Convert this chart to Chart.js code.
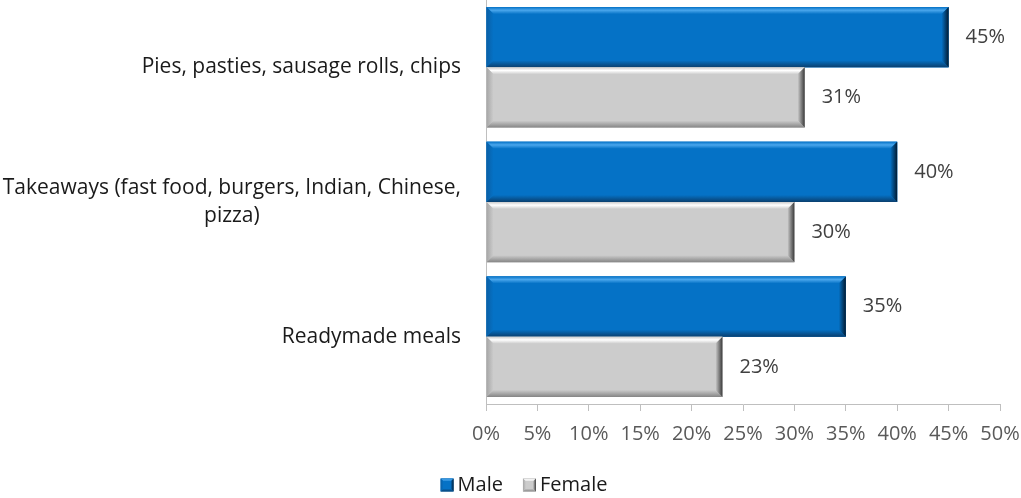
<!DOCTYPE html>
<html>
<head>
<meta charset="utf-8">
<script src="https://cdn.jsdelivr.net/npm/chart.js@4/dist/chart.umd.min.js"></script>
<style>
  html, body { margin: 0; padding: 0; background: #ffffff; }
  #wrap { width: 1021px; height: 498px; position: relative; }
</style>
</head>
<body>
<div id="wrap"><canvas id="chart"></canvas></div>
<script>
// Category labels (second one wraps onto two lines)
const categories = [
  ['Pies, pasties, sausage rolls, chips'],
  ['Takeaways (fast food, burgers, Indian, Chinese,', 'pizza)'],
  ['Readymade meals']
];
const seriesNames = ['Male', 'Female'];
const maleValues = [45, 40, 35];
const femaleValues = [31, 30, 23];
const xTicks = [0, 5, 10, 15, 20, 25, 30, 35, 40, 45, 50];

const FONT = '"Open Sans", "Noto Sans", sans-serif';
const FONT_SIZE = 20;
const CAT_FONT_SIZE = 21;

// Colour sets for the bevelled bars: base, highlight, shade, edge
const palette = {
  Male:   { base: '#0572c6', light: '#4aa6ec', left: '#0a5fa6', dark: '#0a3f6e', edge: '#021a30' },
  Female: { base: '#cccccc', light: '#ffffff', left: '#a6a6a6', dark: '#858585', edge: '#3a3a3a' }
};

// Draws a raised (bevelled) rectangle
function bevelRect(ctx, x0, y0, x1, y1, c, b) {
  ctx.save();
  ctx.fillStyle = c.base;
  ctx.fillRect(x0, y0, x1 - x0, y1 - y0);
  let g = ctx.createLinearGradient(0, y0, 0, y0 + b);
  g.addColorStop(0, c.base);
  g.addColorStop(0.45, c.light);
  g.addColorStop(1, c.base);
  ctx.fillStyle = g;
  ctx.beginPath();
  ctx.moveTo(x0, y0); ctx.lineTo(x1, y0); ctx.lineTo(x1 - b, y0 + b); ctx.lineTo(x0 + b, y0 + b);
  ctx.closePath(); ctx.fill();
  g = ctx.createLinearGradient(x0, 0, x0 + b, 0);
  g.addColorStop(0, c.left);
  g.addColorStop(1, c.base);
  ctx.fillStyle = g;
  ctx.beginPath();
  ctx.moveTo(x0, y0); ctx.lineTo(x0 + b, y0 + b); ctx.lineTo(x0 + b, y1 - b); ctx.lineTo(x0, y1);
  ctx.closePath(); ctx.fill();
  g = ctx.createLinearGradient(0, y1 - b, 0, y1);
  g.addColorStop(0, c.base);
  g.addColorStop(1, c.dark);
  ctx.fillStyle = g;
  ctx.beginPath();
  ctx.moveTo(x0, y1); ctx.lineTo(x0 + b, y1 - b); ctx.lineTo(x1 - b, y1 - b); ctx.lineTo(x1, y1);
  ctx.closePath(); ctx.fill();
  g = ctx.createLinearGradient(x1 - b, 0, x1, 0);
  g.addColorStop(0, c.base);
  g.addColorStop(1, c.edge);
  ctx.fillStyle = g;
  ctx.beginPath();
  ctx.moveTo(x1, y0); ctx.lineTo(x1, y1); ctx.lineTo(x1 - b, y1 - b); ctx.lineTo(x1 - b, y0 + b);
  ctx.closePath(); ctx.fill();
  ctx.restore();
}

// Paints the bevel over each bar, using the bar element geometry
const bevelPlugin = {
  id: 'bevel',
  afterDatasetsDraw(chart) {
    const ctx = chart.ctx;
    chart.data.datasets.forEach((ds, di) => {
      const meta = chart.getDatasetMeta(di);
      const c = palette[ds.label];
      meta.data.forEach(bar => {
        const p = bar.getProps(['x', 'y', 'base', 'height'], true);
        const x0 = Math.min(p.base, p.x), x1 = Math.max(p.base, p.x);
        bevelRect(ctx, x0, p.y - p.height / 2, x1, p.y + p.height / 2, c, 7);
      });
    });
  }
};

// Value labels to the right of each bar
const valueLabelPlugin = {
  id: 'valueLabels',
  afterDatasetsDraw(chart) {
    const ctx = chart.ctx;
    ctx.save();
    ctx.font = FONT_SIZE + 'px ' + FONT;
    ctx.fillStyle = '#404040';
    ctx.textAlign = 'left';
    ctx.textBaseline = 'middle';
    chart.data.datasets.forEach((ds, di) => {
      chart.getDatasetMeta(di).data.forEach((bar, i) => {
        const p = bar.getProps(['x', 'y'], true);
        ctx.fillText(ds.data[i] + '%', p.x + 17, p.y);
      });
    });
    ctx.restore();
  }
};

// Category labels: block right-aligned against the axis, lines centred within the block
const categoryLabelPlugin = {
  id: 'categoryLabels',
  afterDraw(chart) {
    const ctx = chart.ctx;
    const yScale = chart.scales.y;
    const right = chart.chartArea.left - 25;
    const lineH = 28;
    ctx.save();
    ctx.font = CAT_FONT_SIZE + 'px ' + FONT;
    ctx.fillStyle = '#1a1a1a';
    ctx.textBaseline = 'middle';
    ctx.textAlign = 'center';
    categories.forEach((lines, i) => {
      const cy = yScale.getPixelForValue(i);
      const w = Math.max(...lines.map(l => ctx.measureText(l).width));
      const cx = right - w / 2;
      const startY = cy - (lines.length - 1) * lineH / 2;
      lines.forEach((l, k) => ctx.fillText(l, cx, startY + k * lineH));
    });
    ctx.restore();
  }
};

// Series key below the axis
const keyPlugin = {
  id: 'seriesKey',
  afterDraw(chart) {
    const ctx = chart.ctx;
    ctx.save();
    ctx.font = FONT_SIZE + 'px ' + FONT;
    ctx.textBaseline = 'middle';
    ctx.textAlign = 'left';
    const box = 13, gap = 4, spacing = 20;
    const items = chart.data.datasets.map(ds => ({ name: ds.label, w: ctx.measureText(ds.label).width }));
    const total = items.reduce((s, it) => s + box + gap + it.w, 0) + spacing * (items.length - 1);
    let x = 524 - total / 2;
    const cy = 485;
    items.forEach(it => {
      bevelRect(ctx, x, cy - box / 2, x + box, cy + box / 2, palette[it.name], 3);
      ctx.fillStyle = '#1a1a1a';
      ctx.fillText(it.name, x + box + gap, cy);
      x += box + gap + it.w + spacing;
    });
    ctx.restore();
  }
};

new Chart(document.getElementById('chart'), {
  type: 'bar',
  data: {
    labels: categories,
    datasets: [
      { label: seriesNames[0], data: maleValues, backgroundColor: palette.Male.base, borderWidth: 0 },
      { label: seriesNames[1], data: femaleValues, backgroundColor: palette.Female.base, borderWidth: 0 }
    ]
  },
  options: {
    indexAxis: 'y',
    responsive: true,
    maintainAspectRatio: false,
    animation: false,
    datasets: { bar: { categoryPercentage: 0.895, barPercentage: 1.0 } },
    layout: { padding: { top: -2, right: 21, left: 0, bottom: 44 } },
    scales: {
      x: {
        min: 0, max: 50,
        afterBuildTicks(s) { s.ticks = xTicks.map(v => ({ value: v })); },
        afterFit(s) { s.height = 50; s.paddingRight = 0; s.paddingLeft = 0; },
        grid: { drawOnChartArea: false, drawTicks: true, tickLength: 7, color: '#bfbfbf', lineWidth: 1 },
        border: { display: true, color: '#bfbfbf', width: 1 },
        ticks: {
          callback: v => v + '%',
          color: '#595959',
          font: { size: FONT_SIZE, family: FONT },
          padding: 11,
          maxRotation: 0,
          autoSkip: false
        }
      },
      y: {
        afterFit(s) { s.width = 486; },
        grid: { display: false },
        border: { display: true, color: '#bfbfbf', width: 1 },
        ticks: { display: false }
      }
    },
    plugins: {
      legend: { display: false },
      tooltip: { enabled: false }
    }
  },
  plugins: [bevelPlugin, valueLabelPlugin, categoryLabelPlugin, keyPlugin]
});
</script>
</body>
</html>
